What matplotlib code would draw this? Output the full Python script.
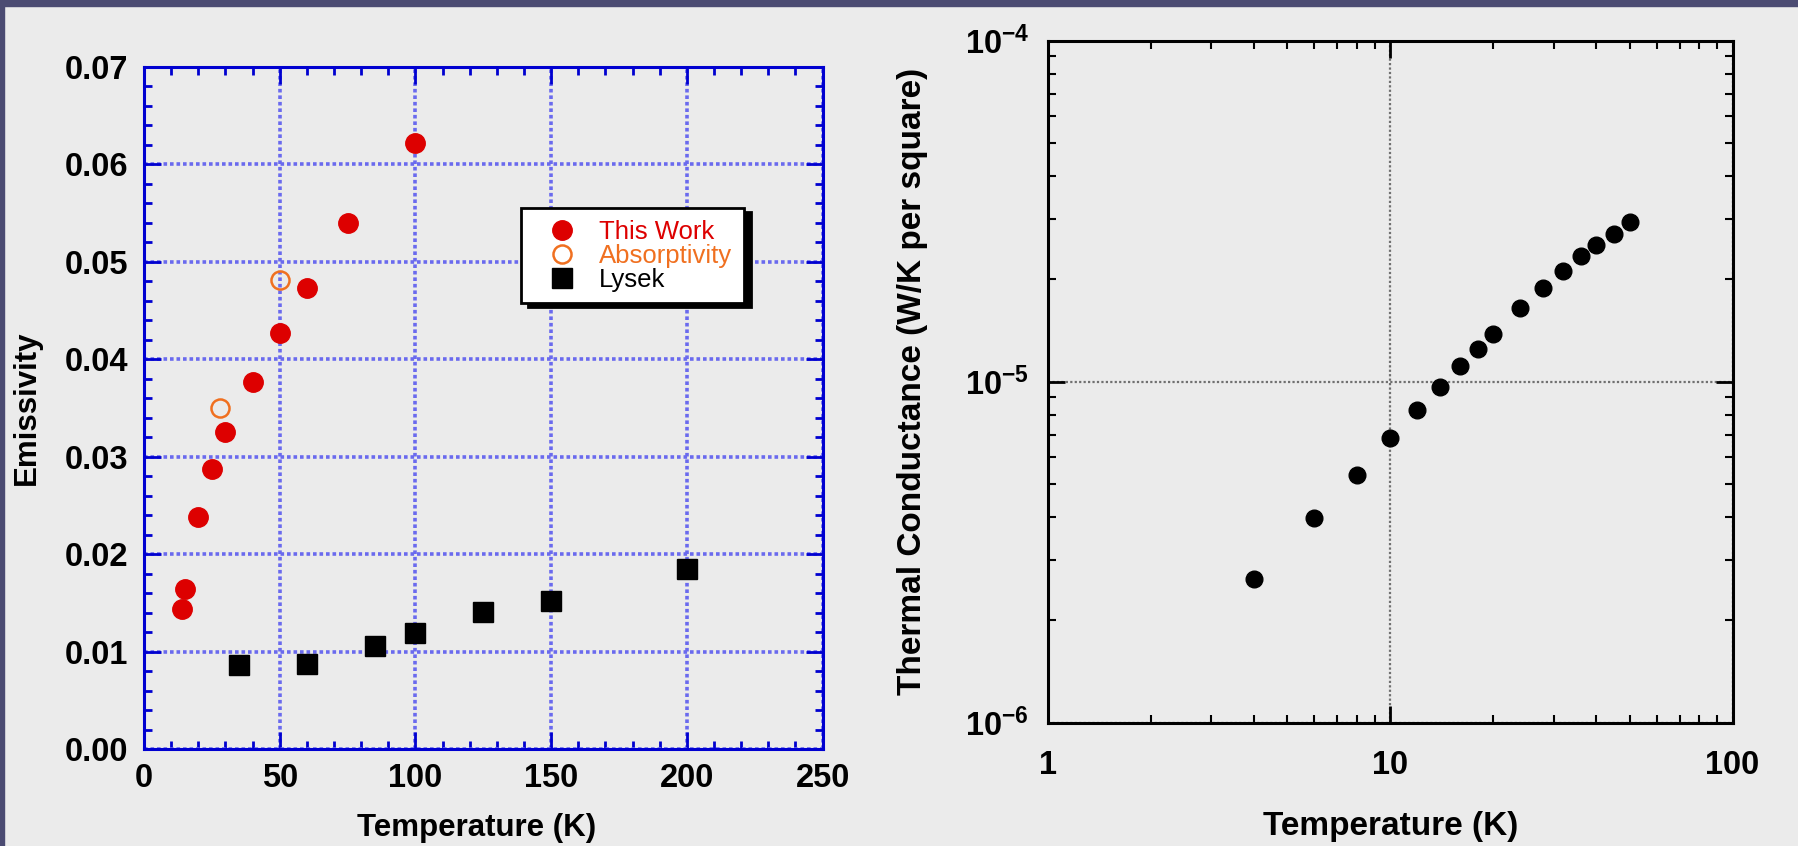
import matplotlib
matplotlib.use("Agg")
import matplotlib.pyplot as plt
from matplotlib.patches import Rectangle
from matplotlib.ticker import MultipleLocator, FormatStrFormatter, LogLocator, NullFormatter, FixedLocator, FixedFormatter

plt.rcParams['font.family'] = ['Liberation Sans', 'DejaVu Sans']
plt.rcParams['font.weight'] = 'bold'
plt.rcParams['mathtext.fontset'] = 'custom'
plt.rcParams['mathtext.rm'] = 'Liberation Sans:bold'
plt.rcParams['mathtext.bf'] = 'Liberation Sans:bold'

# emissivity vs temperature (left panel)
this_work_T = [14, 15, 20, 25, 30, 40, 50, 60, 75, 100]
this_work_eps = [0.0144, 0.0164, 0.0238, 0.0287, 0.0325, 0.0377, 0.0427, 0.0473, 0.0540, 0.0622]
absorp_T = [28, 50]
absorp_eps = [0.0350, 0.0481]
lysek_T = [35, 60, 85, 100, 125, 150, 200]
lysek_eps = [0.0086, 0.0088, 0.0106, 0.0119, 0.0141, 0.0152, 0.0185]

# thermal conductance vs temperature (right panel)
cond_T = [4, 6, 8, 10, 12, 14, 16, 18, 20, 24, 28, 32, 36, 40, 45, 50]
cond_G = [2.64e-6, 3.99e-6, 5.34e-6, 6.83e-6, 8.28e-6, 9.62e-6, 1.111e-5, 1.247e-5,
          1.380e-5, 1.649e-5, 1.879e-5, 2.109e-5, 2.334e-5, 2.519e-5, 2.72e-5, 2.94e-5]

bg = '#ebebeb'
blue = '#0000d0'
red = '#dd0000'
orange = '#f07020'

fig = plt.figure(figsize=(17.98, 8.46), dpi=100, facecolor=bg)
# dark slide border on top and left
fig.patches.append(Rectangle((0, 1 - 6 / 846), 1, 6 / 846, transform=fig.transFigure, color='#4b4b72', zorder=0))
fig.patches.append(Rectangle((0, 0), 4 / 1798, 1, transform=fig.transFigure, color='#4b4b72', zorder=0))

# ---- left panel ----
ax1 = fig.add_axes([0.0801, 0.1143, 0.3774, 0.8067])
ax1.set_facecolor(bg)
ax1.set_xlim(0, 250)
ax1.set_ylim(0, 0.07)
ax1.xaxis.set_major_locator(MultipleLocator(50))
ax1.xaxis.set_minor_locator(MultipleLocator(10))
ax1.yaxis.set_major_locator(MultipleLocator(0.01))
ax1.yaxis.set_minor_locator(MultipleLocator(0.002))
ax1.yaxis.set_major_formatter(FormatStrFormatter('%.2f'))
ax1.grid(True, which='major', color='#6a6aee', linestyle=(0, (1, 0.8)), linewidth=2.6)
ax1.set_axisbelow(True)
for s in ax1.spines.values():
    s.set_color(blue)
    s.set_linewidth(2.2)
ax1.tick_params(which='both', direction='in', top=True, right=True, color=blue, labelsize=23.5)
ax1.tick_params(which='major', length=12, width=2)
ax1.tick_params(which='minor', length=6, width=2)
ax1.tick_params(axis='x', pad=10)
ax1.tick_params(axis='y', pad=11.5)

ax1.plot(this_work_T, this_work_eps, 'o', color=red, ms=14, label='This Work', zorder=3)
ax1.plot(absorp_T, absorp_eps, 'o', mfc='none', mec=orange, mew=1.8, ms=13, label='Absorptivity', zorder=3)
ax1.plot(lysek_T, lysek_eps, 's', color='black', ms=14, label='Lysek', zorder=3)

leg = ax1.legend(loc='upper left', bbox_to_anchor=(0.555, 0.793), borderaxespad=0,
                 fancybox=False, framealpha=1, edgecolor='black', facecolor='white',
                 shadow={'ox': 5, 'oy': -3, 'facecolor': 'black', 'edgecolor': 'black', 'alpha': 1},
                 prop={'size': 18.5, 'weight': 'normal'}, labelcolor=[red, orange, 'black'],
                 borderpad=0.45, handlelength=2.3, handletextpad=0.3, labelspacing=0.0)
leg.get_frame().set_linewidth(2)

ax1.set_xlabel('Temperature (K)', fontsize=22.5, fontweight='bold')
ax1.xaxis.set_label_coords(0.49, -0.0933)
ax1.set_ylabel('Emissivity', fontsize=22.5, fontweight='bold')
ax1.yaxis.set_label_coords(-0.151, 0.5)

# ---- right panel ----
ax2 = fig.add_axes([0.5829, 0.1457, 0.3807, 0.8062])
ax2.set_facecolor(bg)
ax2.set_xscale('log')
ax2.set_yscale('log')
ax2.set_xlim(1, 100)
ax2.set_ylim(1e-6, 1e-4)
ax2.xaxis.set_major_locator(FixedLocator([1, 10, 100]))
ax2.xaxis.set_major_formatter(FixedFormatter(['1', '10', '100']))
ax2.yaxis.set_major_locator(FixedLocator([1e-6, 1e-5, 1e-4]))
ax2.yaxis.set_major_formatter(FixedFormatter([r'$\mathbf{10^{-6}}$', r'$\mathbf{10^{-5}}$', r'$\mathbf{10^{-4}}$']))
ax2.xaxis.set_minor_locator(LogLocator(base=10, subs=range(2, 10)))
ax2.yaxis.set_minor_locator(LogLocator(base=10, subs=range(2, 10)))
ax2.xaxis.set_minor_formatter(NullFormatter())
ax2.yaxis.set_minor_formatter(NullFormatter())
ax2.grid(True, which='major', color='#707070', linestyle=(0, (1, 1)), linewidth=1.6)
ax2.set_axisbelow(True)
for s in ax2.spines.values():
    s.set_color('black')
    s.set_linewidth(2.2)
ax2.tick_params(which='both', direction='in', top=True, right=True, color='black', labelsize=23.5)
ax2.tick_params(which='major', length=12, width=2)
ax2.tick_params(which='minor', length=6, width=1.5)
ax2.tick_params(axis='x', pad=19.5)
ax2.tick_params(axis='y', pad=13.5)

ax2.plot(cond_T, cond_G, 'o', color='black', ms=12, zorder=3)

ax2.set_xlabel('Temperature (K)', fontsize=24, fontweight='bold')
ax2.xaxis.set_label_coords(0.5, -0.1295)
ax2.set_ylabel('Thermal Conductance (W/K per square)', fontsize=24, fontweight='bold')
ax2.yaxis.set_label_coords(-0.175, 0.5)

fig.savefig('out.png', dpi=100, facecolor=fig.get_facecolor())
